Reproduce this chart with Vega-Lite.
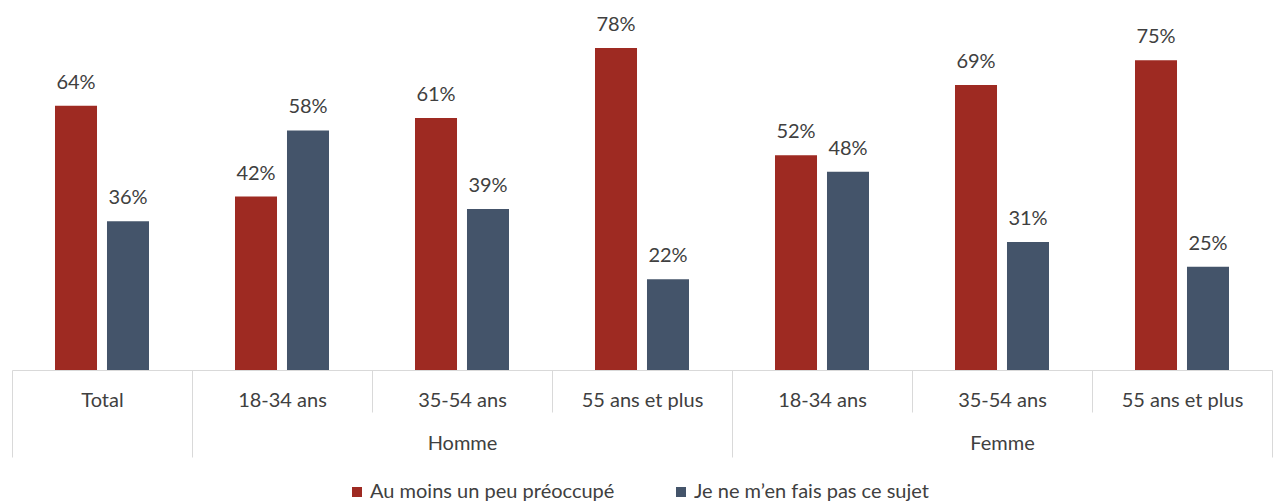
{
  "$schema": "https://vega.github.io/schema/vega-lite/v6.json",
  "width": 1260,
  "height": 370,
  "autosize": {"type": "none"},
  "padding": {"left": 12, "top": 0, "right": 10, "bottom": 133},
  "background": "white",
  "config": {"view": {"stroke": null}, "font": "Lato"},
  "data": {
    "values": [
      {"cat": "Total", "serie": "Au moins un peu préoccupé", "value": 0.64},
      {"cat": "Total", "serie": "Je ne m’en fais pas ce sujet", "value": 0.36},
      {"cat": "H18", "serie": "Au moins un peu préoccupé", "value": 0.42},
      {"cat": "H18", "serie": "Je ne m’en fais pas ce sujet", "value": 0.58},
      {"cat": "H35", "serie": "Au moins un peu préoccupé", "value": 0.61},
      {"cat": "H35", "serie": "Je ne m’en fais pas ce sujet", "value": 0.39},
      {"cat": "H55", "serie": "Au moins un peu préoccupé", "value": 0.78},
      {"cat": "H55", "serie": "Je ne m’en fais pas ce sujet", "value": 0.22},
      {"cat": "F18", "serie": "Au moins un peu préoccupé", "value": 0.52},
      {"cat": "F18", "serie": "Je ne m’en fais pas ce sujet", "value": 0.48},
      {"cat": "F35", "serie": "Au moins un peu préoccupé", "value": 0.69},
      {"cat": "F35", "serie": "Je ne m’en fais pas ce sujet", "value": 0.31},
      {"cat": "F55", "serie": "Au moins un peu préoccupé", "value": 0.75},
      {"cat": "F55", "serie": "Je ne m’en fais pas ce sujet", "value": 0.25}
    ]
  },
  "encoding": {
    "x": {
      "field": "cat",
      "type": "nominal",
      "sort": ["Total", "H18", "H35", "H55", "F18", "F35", "F55"],
      "scale": {"paddingInner": 0, "paddingOuter": 0},
      "axis": {
        "title": null,
        "labelAngle": 0,
        "tickBand": "extent",
        "domainColor": "#d9d9d9",
        "domainWidth": 1,
        "tickColor": "#d9d9d9",
        "tickWidth": 1,
        "tickSize": {"condition": {"test": "indexof(['H18','H35','F18','F35'], datum.value) >= 0", "value": 42}, "value": 87},
        "labelPadding": {"condition": {"test": "indexof(['H18','H35','F18','F35'], datum.value) >= 0", "value": -22}, "value": -67},
        "labelFont": "Lato",
        "labelFontSize": 20,
        "labelColor": "#404040",
        "labelLineHeight": 43,
        "labelExpr": "datum.value == 'Total' ? 'Total' : datum.value == 'H18' ? '18-34 ans' : datum.value == 'H35' ? ['35-54 ans', 'Homme'] : datum.value == 'H55' ? '55 ans et plus' : datum.value == 'F18' ? '18-34 ans' : datum.value == 'F35' ? ['35-54 ans', 'Femme'] : datum.value == 'F55' ? '55 ans et plus' : ''"
      }
    },
    "xOffset": {
      "field": "serie",
      "sort": ["Au moins un peu préoccupé", "Je ne m’en fais pas ce sujet"],
      "scale": {"paddingInner": 0.192, "paddingOuter": 0.827}
    },
    "y": {
      "field": "value",
      "type": "quantitative",
      "scale": {"domain": [0, 0.896], "nice": false},
      "axis": null
    }
  },
  "layer": [
    {
      "mark": {"type": "bar"},
      "encoding": {
        "color": {
          "field": "serie",
          "type": "nominal",
          "sort": ["Au moins un peu préoccupé", "Je ne m’en fais pas ce sujet"],
          "scale": {"domain": ["Au moins un peu préoccupé", "Je ne m’en fais pas ce sujet"], "range": ["#9E2A22", "#44546A"]},
          "legend": {
            "orient": "none",
            "legendX": 335,
            "legendY": 482,
            "direction": "horizontal",
            "title": null,
            "symbolType": "square",
            "symbolSize": 100,
            "symbolStrokeWidth": 0,
            "labelFont": "Lato",
            "labelFontSize": 20,
            "labelColor": "#404040",
            "labelLimit": 0,
            "labelOffset": 3,
            "columnPadding": 56,
            "padding": 0
          }
        }
      }
    },
    {
      "mark": {"type": "text", "baseline": "middle", "dy": -23, "fontSize": 20, "font": "Lato", "color": "#404040"},
      "encoding": {
        "text": {"field": "value", "type": "quantitative", "format": ".0%"}
      }
    }
  ]
}
